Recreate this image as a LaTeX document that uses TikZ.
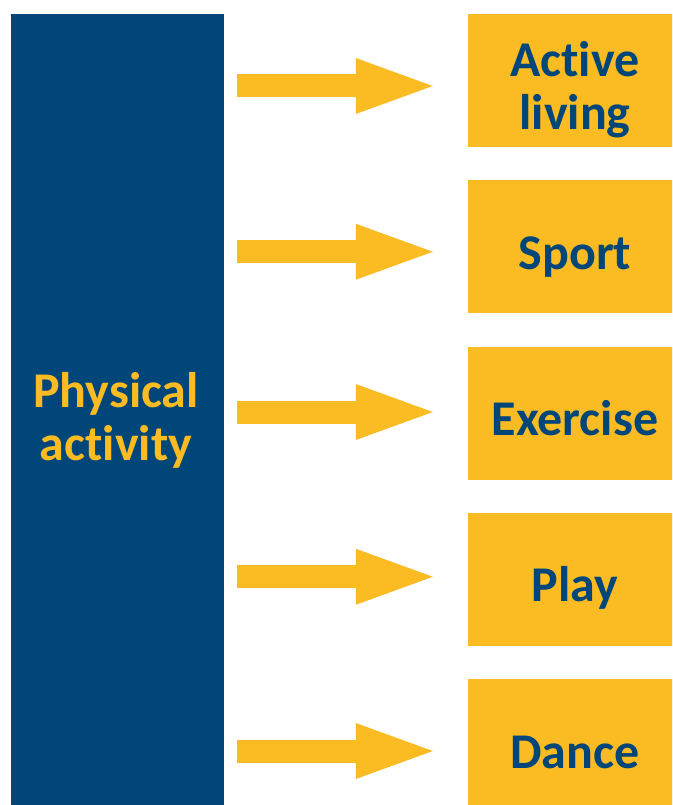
\documentclass[tikz,border=0pt]{standalone}
\usepackage{fontspec}
\setmainfont{Carlito}[Ligatures=NoCommon]
\definecolor{panavy}{RGB}{0, 70, 121}
\definecolor{pagold}{RGB}{251, 187, 34}
\usetikzlibrary{arrows.meta, positioning, calc}

\tikzset{
  typebox/.style={fill=pagold, minimum width=214pt, minimum height=133pt, inner sep=0pt},
  typelabel/.style={text=panavy, font=\fontsize{50}{53}\selectfont\bfseries, align=center, anchor=base, inner sep=0pt},
  fatarrow/.style={pagold, line width=23pt, -{Triangle[length=77pt,width=56pt,line width=0pt]}, shorten <=13pt, shorten >=35pt}
}

\begin{document}
\begin{tikzpicture}[x=1pt, y=-1pt]
  \clip (0,0) rectangle (672,805);
  \fill[white] (0,0) rectangle (672,805);

  % main block
  \node[fill=panavy, minimum width=213pt, minimum height=806pt, inner sep=0pt] (pa) at (117.5,417) {};
  \node[text=pagold, font=\fontsize{50}{53}\selectfont\bfseries, align=center, anchor=base, inner sep=0pt] (palabel) at (116,460) {Physical\\activity};

  % kinds of activity, each with its arrow
  \foreach \i/\txt/\dy/\ay in {1/{Active\\living}/49.5/5.5, 2/Sport/22.5/5, 3/Exercise/22.5/-1, 4/Play/22.5/-2.5, 5/Dance/22.5/5.5} {
    \node[typebox] (b\i) at (575, {80.5+166.25*(\i-1)}) {};
    \node[typelabel] (t\i) at ([yshift=-\dy pt]b\i.center) {\txt};
    \draw[fatarrow] ([yshift=-\ay pt]pa.east |- b\i.west) -- ([yshift=-\ay pt]b\i.west);
  }
\end{tikzpicture}
\end{document}
